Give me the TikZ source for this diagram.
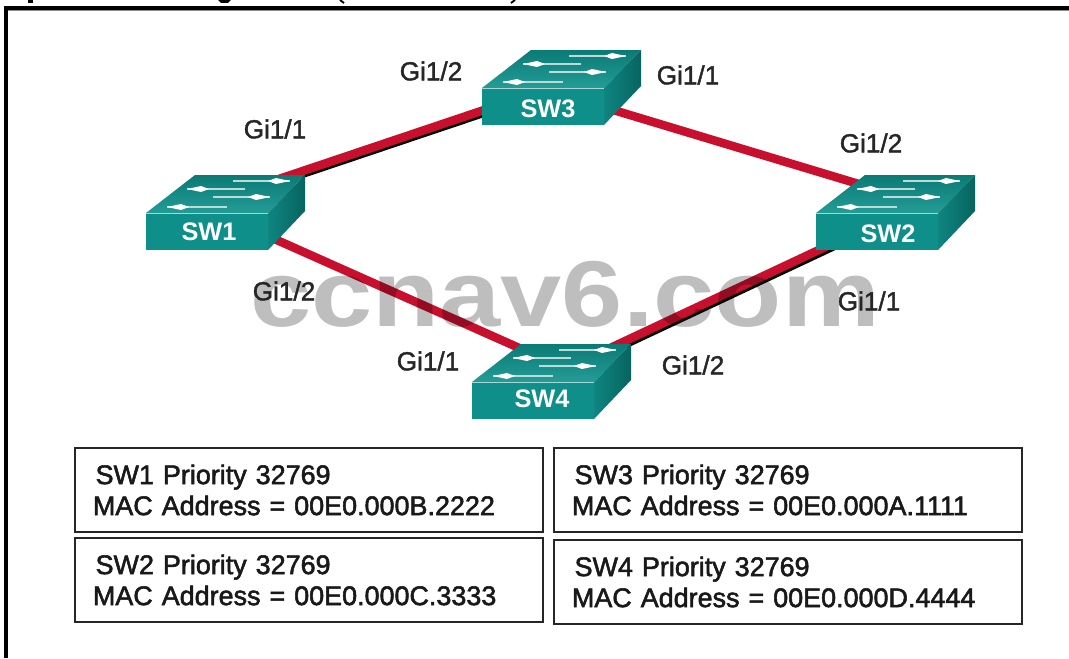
\documentclass[tikz,border=0pt]{standalone}
\usepackage{fontspec}
\setmainfont{Liberation Sans}
\usetikzlibrary{calc}
\definecolor{linkred}{HTML}{C8102E}
\definecolor{swfront}{HTML}{0E8F8A}
\definecolor{swtopa}{HTML}{0B7A75}
\definecolor{swtopb}{HTML}{249C96}
\definecolor{swsidea}{HTML}{0F8580}
\definecolor{swsideb}{HTML}{07645F}
\definecolor{wm}{HTML}{BEBEBE}
\tikzset{
  link/.style={line width=6.4pt,linkred},
  linkshadow/.style={line width=2.6pt,black},
  portlabel/.style={inner sep=0pt,font=\fontsize{19.6}{21}\selectfont\addfontfeature{FakeBold=1.5},text=black!85},
  swlabel/.style={inner sep=0pt,text=white,font=\bfseries\fontsize{19}{21}\selectfont},
  infobox/.style={draw=black!85,line width=1.4pt,fill=white,minimum height=63pt,inner xsep=13.5pt,inner ysep=0pt,align=left,text width=324pt,
     font=\fontsize{20.2}{23.25}\selectfont\addfontfeature{FakeBold=2},text=black!90,anchor=north west},
  arrowline/.style={line width=1.5pt,white!72!swtopa},
  arrowhead/.style={fill=white,draw=none},
  frameline/.style={fill=black},
}
% #1 name, #2 #3 front top-left corner, #4 #5 label centre, #6 label
\newcommand{\swbox}[6]{%
  \begin{scope}[shift={(#2,#3)}]
    \shade[top color=swtopa,bottom color=swtopb] (0,0) -- (49,-38) -- (159,-38) -- (122,0) -- cycle;
    \shade[left color=swsidea,right color=swsideb] (122,0) -- (159,-38) -- (159,-2) -- (122,37) -- cycle;
    \fill[swfront] (0,0) rectangle (122,37);
    \draw[white!60!swtopb,line width=.6pt] (0,0) -- (122,0);
    \draw[arrowline] (87,-32) -- (144,-32);
    \fill[arrowhead] (144,-32) -- (130,-35) -- (122,-32) -- (130,-29) -- cycle;
    \draw[arrowline] (41,-24) -- (99,-24);
    \fill[arrowhead] (41,-24) -- (55,-27) -- (63,-24) -- (55,-21) -- cycle;
    \draw[arrowline] (67,-16) -- (124,-16);
    \fill[arrowhead] (124,-16) -- (110,-19) -- (102,-16) -- (110,-13) -- cycle;
    \draw[arrowline] (21,-6) -- (81,-6);
    \fill[arrowhead] (21,-6) -- (35,-9) -- (43,-6) -- (35,-3) -- cycle;
  \end{scope}
  \node[swlabel] (#1) at (#4,#5) {#6};
}
\begin{document}
\begin{tikzpicture}[x=0.75pt,y=-0.75pt]
\useasboundingbox (0,0) rectangle (1069,658);
\fill[white] (0,0) rectangle (1069,658);

% frame
\fill[black!45] (7,9.5) rectangle (1069,10.5);
\fill[frameline] (4,6) rectangle (1069,9.5);
\fill[frameline] (4,6) rectangle (7.5,658);

% remains of a cut-off title above the frame
\fill[frameline] (28,0) rectangle (33,3);
\fill[frameline] (218,0) -- (221,2.8) -- (228,2.8) -- (231,0) -- cycle;
\draw[black,line width=1.4pt] (340,0) -- (344,3);
\draw[black,line width=1.4pt] (515,0) -- (511,3);

% link ends, hidden behind the switches
\coordinate (e13) at (270,182);
\coordinate (e31) at (490,108);
\coordinate (e32) at (610,109);
\coordinate (e23) at (862,185);
\coordinate (e14) at (270,237);
\coordinate (e41) at (526,351);
\coordinate (e42) at (606,350);
\coordinate (e24) at (840,240);

% links
\draw[linkshadow] ($(e13)+(1,5)$) -- ($(e31)+(1,5)$);
\draw[linkshadow] ($(e42)+(2,5)$) -- ($(e24)+(2,5)$);
\draw[link] (e13) -- (e31);
\draw[link] (e32) -- (e23);
\draw[link] (e14) -- (e41);
\draw[link] (e42) -- (e24);

% watermark
\begin{scope}[blend mode=multiply]
\node[anchor=base,inner sep=0pt,text=wm,yscale=.85,font=\fontsize{82.5}{90}\selectfont\bfseries] (mark) at (565,326) {ccnav6.com};
\end{scope}

% switches
\swbox{sw1}{146}{213}{209}{232}{SW1}
\swbox{sw3}{482}{88}{548}{109}{SW3}
\swbox{sw2}{816}{213}{888}{234}{SW2}
\swbox{sw4}{472}{382}{542}{399}{SW4}

% port labels
\node[portlabel] (p1) at (431,71) {Gi1/2};
\node[portlabel] (p2) at (688,75) {Gi1/1};
\node[portlabel] (p3) at (275,129) {Gi1/1};
\node[portlabel] (p4) at (871,143) {Gi1/2};
\node[portlabel] (p5) at (284,291) {Gi1/2};
\node[portlabel] (p6) at (869,301) {Gi1/1};
\node[portlabel] (p7) at (428,361) {Gi1/1};
\node[portlabel] (p8) at (693,365) {Gi1/2};

% information boxes
\node[infobox] (b1) at (74,447) {\hspace{2pt}SW1 Priority 32769\\MAC Address = 00E0.000B.2222};
\node[infobox] (b2) at (74,537) {\hspace{2pt}SW2 Priority 32769\\MAC Address = 00E0.000C.3333};
\node[infobox] (b3) at (553,447) {\hspace{2pt}SW3 Priority 32769\\MAC Address = 00E0.000A.1111};
\node[infobox] (b4) at (553,539) {\hspace{2pt}SW4 Priority 32769\\MAC Address = 00E0.000D.4444};
\end{tikzpicture}
\end{document}
